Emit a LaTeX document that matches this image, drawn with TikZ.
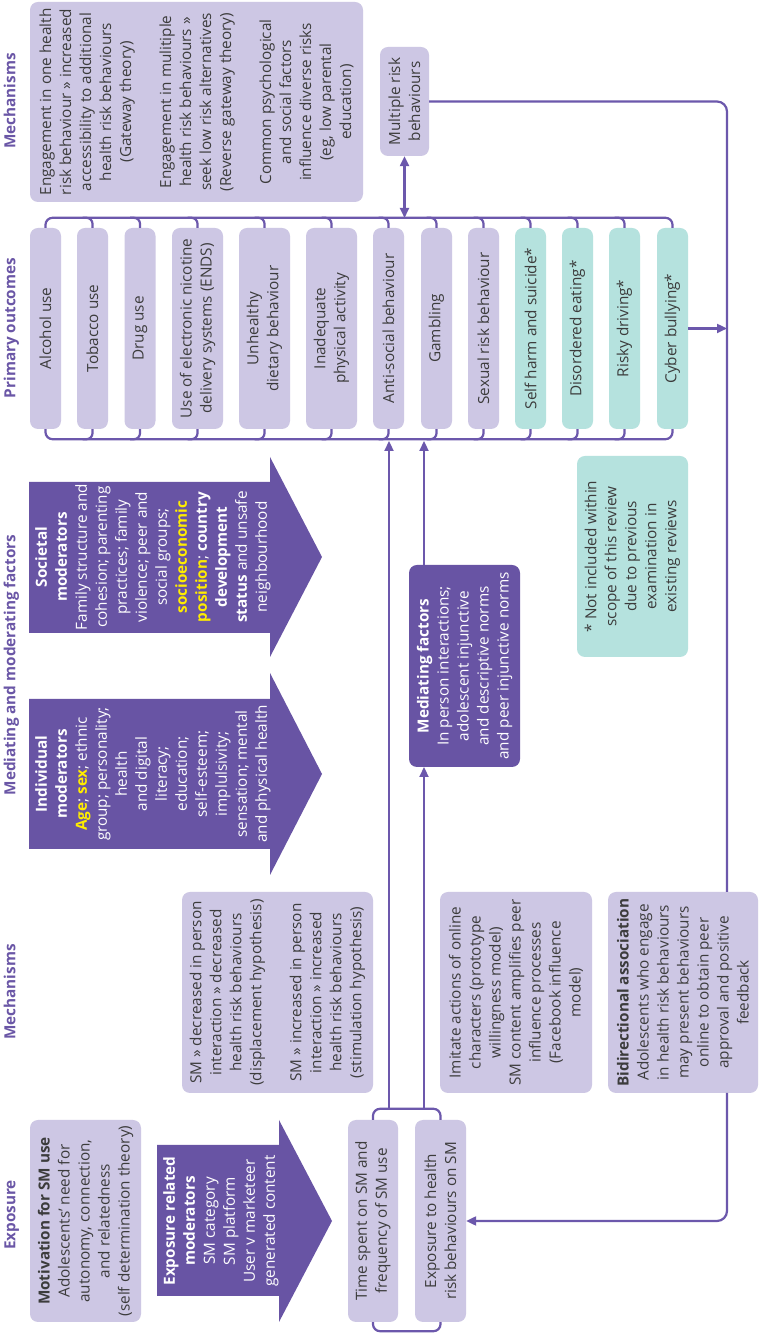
\documentclass[tikz,border=0pt]{standalone}
\usepackage{fontspec}
\setmainfont{Open Sans}
\usetikzlibrary{arrows.meta}
\definecolor{lav}{RGB}{205,199,228}
\definecolor{tealb}{RGB}{181,226,222}
\definecolor{dpur}{RGB}{104,84,164}
\definecolor{lin}{RGB}{108,88,172}
\definecolor{hpur}{RGB}{106,86,166}
\definecolor{yel}{RGB}{255,236,0}
\definecolor{txt}{RGB}{60,60,60}
\newcommand\fsz{\fontsize{15.3}{20}\selectfont}
\newcommand\fhd{\fontsize{15.3}{18}\selectfont\bfseries}
\newcommand\yb[1]{\textcolor{yel}{\bfseries #1}}
\begin{document}
\begin{tikzpicture}[x=1pt,y=1pt, >={Triangle[length=10pt,width=9pt]},
 lbox/.style={fill=lav, rounded corners=8pt, inner sep=0pt, align=center, text=txt, font=\fsz},
 tbox/.style={lbox, fill=tealb},
 dbox/.style={lbox, fill=dpur, text=white},
 obox/.style={lbox, minimum width=201pt},
 otbox/.style={tbox, minimum width=201pt},
 hdr/.style={text=hpur, font=\fhd, anchor=base, inner sep=0pt},
 atext/.style={text=white, font=\fsz, align=center, inner sep=0pt},
 conn/.style={draw=lin, line width=2.2pt},
 bigarrow/.style={fill=dpur}]
\useasboundingbox (0,0) rectangle (759,1333);
\fill[white] (0,0) rectangle (759,1333);
\begin{scope}[rotate=90, transform shape]
% headers
\node[hdr] (h1) at (118,-15.5) {Exposure};
\node[hdr] (h2) at (341,-15.5) {Mechanisms};
\node[hdr] (h3) at (668,-15.5) {Mediating and moderating factors};
\node[hdr] (h4) at (1005,-15.5) {Primary outcomes};
\node[hdr] (h5) at (1232,-15.5) {Mechanisms};
% exposure column
\node[lbox, minimum width=202pt, minimum height=111pt] (mot) at (112,-85.5)
 {\textbf{Motivation for SM use}\\Adolescents’ need for\\autonomy, connection,\\and relatedness\\(self determination theory)};
\fill[bigarrow] (37,-157) -- (188,-157) -- (188,-279) -- (213,-279) -- (112,-332) -- (11,-279) -- (37,-279) -- cycle;
\node[atext] (expm) at (112,-221) {\textbf{Exposure related}\\\textbf{moderators}\\SM category\\SM platform\\User v marketeer\\generated content};
\node[lbox, minimum width=202pt, minimum height=50pt] (time) at (112,-373) {Time spent on SM and\\frequency of SM use};
\node[lbox, minimum width=202pt, minimum height=51pt] (expo) at (112,-440.5) {Exposure to health\\risk behaviours on SM};
% mechanisms left
\node[lbox, minimum width=201pt, minimum height=191pt] (mech1) at (340.5,-277.5)
 {SM » decreased in person\\interaction » decreased\\health risk behaviours\\(displacement hypothesis)\\[20pt]SM » increased in person\\interaction » increased\\health risk behaviours\\(stimulation hypothesis)};
\node[lbox, minimum width=201pt, minimum height=152pt] (mech2) at (340.5,-516)
 {Imitate actions of online\\characters (prototype\\willingness model)\\SM content amplifies peer\\influence processes\\(Facebook influence\\model)};
\node[lbox, minimum width=201pt, minimum height=150pt] (bid) at (340.5,-683)
 {\textbf{Bidirectional association}\\Adolescents who engage\\in health risk behaviours\\may present behaviours\\online to obtain peer\\approval and positive\\feedback};
% moderators
\fill[bigarrow] (484,-29) -- (634,-29) -- (634,-270) -- (660,-270) -- (559,-322) -- (458,-270) -- (484,-270) -- cycle;
\node[atext] (indm) at (559,-153) {\textbf{Individual}\\\textbf{moderators}\\\yb{Age}; \yb{sex}; ethnic\\group; personality;\\health\\and digital\\literacy;\\education;\\self-esteem;\\implulsivity;\\sensation; mental\\and physical health};
\fill[bigarrow] (700,-29) -- (851,-29) -- (851,-270) -- (876,-270) -- (776,-322) -- (676,-270) -- (700,-270) -- cycle;
\node[atext] (socm) at (776,-153) {\textbf{Societal}\\\textbf{moderators}\\Family structure and\\cohesion; parenting\\practices; family\\violence; peer and\\social groups;\\\yb{socioeconomic}\\\yb{position}; \textbf{country}\\\textbf{development}\\\textbf{status} and unsafe\\neighbourhood};
\node[dbox, minimum width=202pt, minimum height=111pt] (medf) at (667,-464.5)
 {\textbf{Mediating factors}\\In person interactions;\\adolescent injunctive\\and descriptive norms\\and peer injunctive norms};
\node[tbox, minimum width=201pt, minimum height=111pt] (foot) at (776.5,-632.5)
 {* Not included within\\scope of this review\\due to previous\\examination in\\existing reviews};
% outcomes
\node[obox, minimum height=31pt] (alc) at (1004.5,-45.5) {Alcohol use};
\node[obox, minimum height=31pt] (tob) at (1004.5,-92.5) {Tobacco use};
\node[obox, minimum height=31pt] (drug) at (1004.5,-140) {Drug use};
\node[obox, minimum height=51pt] (ends) at (1004.5,-197.5) {Use of electronic nicotine\\delivery systems (ENDS)};
\node[obox, minimum height=51pt] (unh) at (1004.5,-264.5) {Unhealthy\\dietary behaviour};
\node[obox, minimum height=51pt] (inad) at (1004.5,-331.5) {Inadequate\\physical activity};
\node[obox, minimum height=31pt] (anti) at (1004.5,-388.5) {Anti-social behaviour};
\node[obox, minimum height=31pt] (gam) at (1004.5,-436.5) {Gambling};
\node[obox, minimum height=31pt] (sex) at (1004.5,-483.5) {Sexual risk behaviour};
\node[otbox, minimum height=31pt] (self) at (1004.5,-530.5) {Self harm and suicide*};
\node[otbox, minimum height=31pt] (dis) at (1004.5,-577.5) {Disordered eating*};
\node[otbox, minimum height=31pt] (risk) at (1004.5,-624.5) {Risky driving*};
\node[otbox, minimum height=31pt] (cyb) at (1004.5,-672.5) {Cyber bullying*};
% mechanisms right
\node[lbox, minimum width=200pt, minimum height=333pt] (mechr) at (1231,-196.5)
 {Engagement in one health\\risk behaviour » increased\\accessibility to additional\\health risk behaviours\\(Gateway theory)\\[20pt]Engagement in mulitiple\\health risk behaviours »\\seek low risk alternatives\\(Reverse gateway theory)\\[20pt]Common psychological\\and social factors\\influence diverse risks\\(eg, low parental\\education)};
\node[lbox, minimum width=109pt, minimum height=49pt] (multi) at (1231.5,-404.5) {Multiple risk\\behaviours};
% braces of outcomes
\draw[conn, rounded corners=7pt] (alc.east) -- ++(10,0) -- ++(0,-627) -- (cyb.east);
\draw[conn, rounded corners=7pt] (alc.west) -- ++(-10,0) -- ++(0,-627) -- (cyb.west);
\foreach \n in {tob,drug,ends,unh,inad,anti,gam,sex,self,dis,risk}{
 \draw[conn, rounded corners=6pt] (\n.east) -- ++(10,0) -- ++(0,10);
 \draw[conn, rounded corners=6pt] (\n.west) -- ++(-10,0) -- ++(0,10);
}
% bracket of exposure
\draw[conn, rounded corners=7pt] (time.east) -- ++(11,0) -- ++(0,-67.5) -- (expo.east);
\draw[conn, rounded corners=7pt] (time.west) -- ++(-9,0) -- ++(0,-67.5) -- (expo.west);
% connectors
\coordinate (v1) at (224,-389);
\coordinate (v1e) at (892,-389);
\coordinate (v2) at (224,-424);
\coordinate (v2m) at (566,-424);
\coordinate (v2n) at (768,-424);
\coordinate (v2e) at (892,-424);
\draw[conn, ->] (v1) -- (v1e);
\draw[conn, ->] (v2) -- (v2m);
\draw[conn, ->] (v2n) -- (v2e);
\coordinate (mb) at (1115,-404.5);
\draw[conn, <->] (mb) -- (multi.west);
\coordinate (rc) at (1231.5,-727);
\coordinate (bidE) at (441,-727);
\coordinate (bidW) at (240,-727);
\coordinate (bc) at (112,-727);
\coordinate (cybE) at (1004.5,-727);
\draw[conn, rounded corners=10pt] (multi.south) -- (rc) -- (bidE);
\draw[conn, ->] (cyb.south) -- (cybE);
\draw[conn, rounded corners=10pt, ->] (bidW) -- (bc) -- (expo.south);
\end{scope}
\end{tikzpicture}
\end{document}
